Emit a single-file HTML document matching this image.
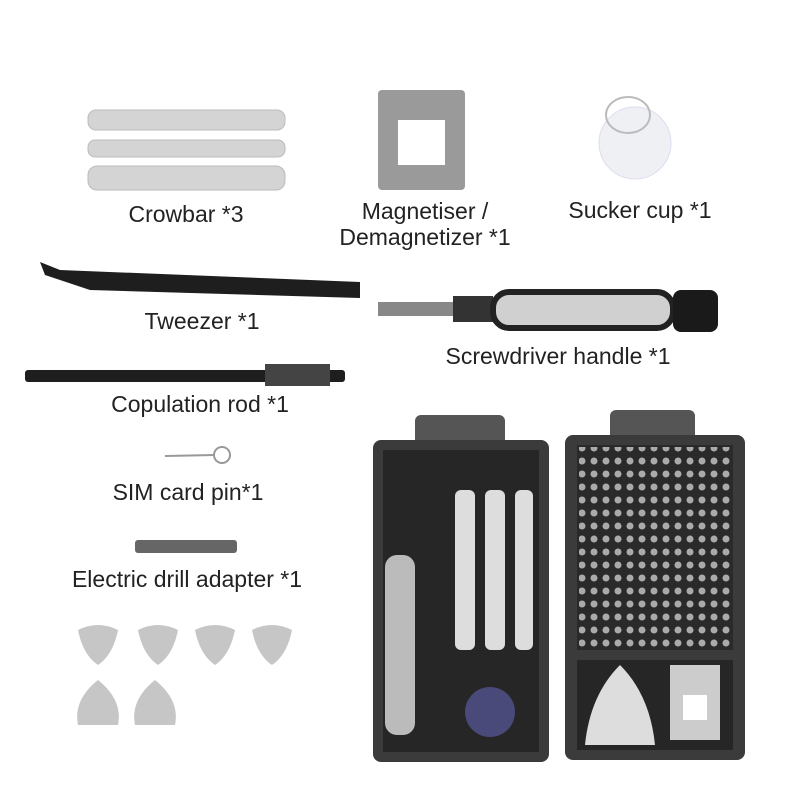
<!DOCTYPE html>
<html><head><meta charset="utf-8"><style>
html,body{margin:0;padding:0;background:#fff;}
body{width:800px;height:800px;position:relative;overflow:hidden;font-family:"Liberation Sans",sans-serif;}
.t{position:absolute;font-size:23px;color:#222;white-space:nowrap;transform:translateX(-50%);text-align:center;line-height:26px;}
</style></head><body>
<svg width="800" height="800" style="position:absolute;left:0;top:0">
<rect x="88" y="110" width="197" height="20" rx="8" fill="#d4d4d4" stroke="#bbb"/>
<rect x="88" y="140" width="197" height="17" rx="7" fill="#d4d4d4" stroke="#bbb"/>
<rect x="88" y="166" width="197" height="24" rx="9" fill="#d4d4d4" stroke="#bbb"/>
<rect x="378" y="90" width="87" height="100" rx="4" fill="#9a9a9a"/>
<rect x="398" y="120" width="47" height="45" fill="#fff"/>
<circle cx="635" cy="143" r="36" fill="#eef0f4" stroke="#dde"/>
<ellipse cx="628" cy="115" rx="22" ry="18" fill="none" stroke="#bbb" stroke-width="2"/>
<polygon points="40,262 60,270 360,282 360,298 90,290 45,275" fill="#1e1e1e"/>
<rect x="378" y="302" width="75" height="14" fill="#888"/>
<rect x="453" y="296" width="40" height="26" fill="#333"/>
<rect x="493" y="292" width="180" height="36" rx="16" fill="#d0d0d0" stroke="#222" stroke-width="6"/>
<rect x="673" y="290" width="45" height="42" rx="8" fill="#1a1a1a"/>
<rect x="25" y="370" width="320" height="12" rx="3" fill="#1e1e1e"/>
<rect x="265" y="364" width="65" height="22" fill="#444"/>
<line x1="165" y1="456" x2="215" y2="455" stroke="#999" stroke-width="2"/>
<circle cx="222" cy="455" r="8" fill="none" stroke="#999" stroke-width="2"/>
<rect x="135" y="540" width="102" height="13" rx="3" fill="#666"/>
<g fill="#c6c6c6">
<path d="M78,630 q20,-10 40,0 q-5,25 -20,35 q-15,-10 -20,-35z"/>
<path d="M138,630 q20,-10 40,0 q-5,25 -20,35 q-15,-10 -20,-35z"/>
<path d="M195,630 q20,-10 40,0 q-5,25 -20,35 q-15,-10 -20,-35z"/>
<path d="M252,630 q20,-10 40,0 q-5,25 -20,35 q-15,-10 -20,-35z"/>
<path d="M78,725 q-5,-25 20,-45 q25,20 20,45z"/>
<path d="M135,725 q-5,-25 20,-45 q25,20 20,45z"/>
</g>
<rect x="415" y="415" width="90" height="35" rx="6" fill="#555"/>
<rect x="373" y="440" width="176" height="322" rx="8" fill="#3b3b3b"/>
<rect x="383" y="450" width="156" height="302" fill="#262626"/>
<rect x="455" y="490" width="20" height="160" rx="6" fill="#ddd"/>
<rect x="485" y="490" width="20" height="160" rx="6" fill="#ddd"/>
<rect x="515" y="490" width="18" height="160" rx="6" fill="#ddd"/>
<rect x="385" y="555" width="30" height="180" rx="12" fill="#bbb"/>
<circle cx="490" cy="712" r="25" fill="#4a4a7a"/>
<rect x="610" y="410" width="85" height="35" rx="6" fill="#555"/>
<rect x="565" y="435" width="180" height="325" rx="8" fill="#3b3b3b"/>
<rect x="577" y="445" width="156" height="205" fill="#2a2a2a"/>
<pattern id="p" width="12" height="13" patternUnits="userSpaceOnUse"><circle cx="6" cy="6" r="3.5" fill="#aaa"/></pattern>
<rect x="579" y="447" width="152" height="200" fill="url(#p)"/>
<rect x="577" y="660" width="156" height="90" fill="#262626"/>
<path d="M585,745 q5,-50 35,-80 q30,30 35,80z" fill="#ddd"/>
<rect x="670" y="665" width="50" height="75" fill="#ccc"/>
<rect x="683" y="695" width="24" height="25" fill="#fff"/>
</svg>
<div class="t" style="left:186px;top:201px">Crowbar *3</div>
<div class="t" style="left:425px;top:198px">Magnetiser /<br>Demagnetizer *1</div>
<div class="t" style="left:640px;top:197px">Sucker cup *1</div>
<div class="t" style="left:202px;top:308px">Tweezer *1</div>
<div class="t" style="left:558px;top:343px">Screwdriver handle *1</div>
<div class="t" style="left:200px;top:391px">Copulation rod *1</div>
<div class="t" style="left:188px;top:479px">SIM card pin*1</div>
<div class="t" style="left:187px;top:566px">Electric drill adapter *1</div>
</body></html>
